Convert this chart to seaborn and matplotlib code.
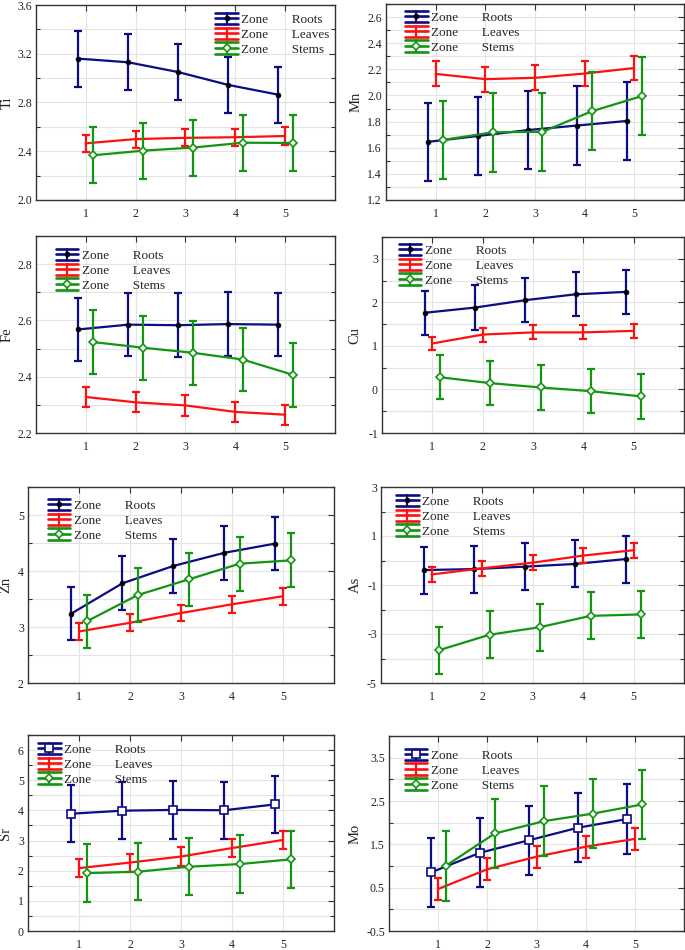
import numpy as np
import matplotlib
matplotlib.use('Agg')
import matplotlib.pyplot as plt
import seaborn as sns
from matplotlib.lines import Line2D
from matplotlib.legend_handler import HandlerBase
from matplotlib.ticker import MultipleLocator, FormatStrFormatter

# zone means per element, sampling sites 1..5
SITES = [1, 2, 3, 4, 5]
ZONES = ['Roots', 'Leaves', 'Stems']

ROOTS = {
    'Ti': [3.16, 3.13, 3.05, 2.945, 2.865],
    'Mn': [1.645, 1.69, 1.735, 1.77, 1.805],
    'Fe': [2.568, 2.585, 2.583, 2.587, 2.585],
    'Cu': [1.76, 1.88, 2.05, 2.185, 2.24],
    'Zn': [3.24, 3.78, 4.09, 4.325, 4.49],
    'As': [-0.39, -0.35, -0.25, -0.14, 0.06],
    'Sr': [3.89, 3.99, 4.015, 4.005, 4.2],
    'Mo': [0.85, 1.305, 1.595, 1.885, 2.085],
}
LEAVES = {
    'Ti': [2.465, 2.50, 2.51, 2.515, 2.525],
    'Mn': [2.165, 2.125, 2.135, 2.168, 2.21],
    'Fe': [2.328, 2.309, 2.298, 2.275, 2.265],
    'Cu': [1.055, 1.26, 1.31, 1.31, 1.345],
    'Zn': [2.92, 3.075, 3.25, 3.405, 3.55],
    'As': [-0.57, -0.32, -0.09, 0.2, 0.42],
    'Sr': [2.085, 2.27, 2.47, 2.75, 3.02],
    'Mo': [0.47, 0.925, 1.215, 1.445, 1.625],
}
STEMS = {
    'Ti': [2.367, 2.405, 2.43, 2.47, 2.468],
    'Mn': [1.66, 1.718, 1.722, 1.88, 1.995],
    'Fe': [2.523, 2.503, 2.485, 2.461, 2.407],
    'Cu': [0.28, 0.145, 0.045, -0.04, -0.16],
    'Zn': [3.10, 3.57, 3.85, 4.13, 4.19],
    'As': [-3.66, -3.03, -2.72, -2.26, -2.20],
    'Sr': [1.92, 1.965, 2.13, 2.22, 2.375],
    'Mo': [1.0, 1.75, 2.035, 2.21, 2.42],
}
# half-width of the error bars (roots, leaves, stems)
HALF_CI = {
    'Ti': (0.23, 0.07, 0.23),
    'Mn': (0.30, 0.095, 0.30),
    'Fe': (0.113, 0.036, 0.113),
    'Cu': (0.51, 0.16, 0.51),
    'Zn': (0.48, 0.15, 0.48),
    'As': (0.96, 0.30, 0.96),
    'Sr': (0.95, 0.30, 0.95),
    'Mo': (0.80, 0.25, 0.80),
}

ZONE_COLORS = {'Roots': '#0c0c84', 'Leaves': '#ff1010', 'Stems': '#129612'}
ZONE_OFFSET = {'Roots': -0.15, 'Leaves': 0.0, 'Stems': 0.15}

# layout: axes box in pixels (left, top, right, bottom), y range, ticks
PANELS = [
    dict(el='Ti', box=(36, 5, 335, 200), ylim=(2.0, 3.6), major=0.4, off=0, minor=0.2,
         fmt='%.1f', leg=(0.60, 0.955), ylab=-0.095, root_mk='o'),
    dict(el='Mn', box=(386, 4, 684, 200), ylim=(1.2, 2.7), major=0.2, off=0, minor=0.1,
         fmt='%.1f', leg=(0.064, 0.96), ylab=-0.10, root_mk='o'),
    dict(el='Fe', box=(36, 236, 335, 433), ylim=(2.2, 2.9), major=0.2, off=0, minor=0.1,
         fmt='%.1f', leg=(0.067, 0.93), ylab=-0.095, root_mk='o'),
    dict(el='Cu', box=(382, 237, 684, 433), ylim=(-1, 3.5), major=1, off=0, minor=0.5,
         fmt='%d', leg=(0.056, 0.96), ylab=-0.089, root_mk='o'),
    dict(el='Zn', box=(28, 487, 334, 683), ylim=(2, 5.5), major=1, off=0, minor=0.5,
         fmt='%d', leg=(0.065, 0.935), ylab=-0.072, root_mk='o'),
    dict(el='As', box=(381, 487, 684, 683), ylim=(-5, 3), major=2, off=1, minor=1,
         fmt='%d', leg=(0.05, 0.955), ylab=-0.086, root_mk='o'),
    dict(el='Sr', box=(28, 735, 334, 931), ylim=(0, 6.5), major=1, off=0, minor=0.5,
         fmt='%d', leg=(0.033, 0.955), ylab=-0.072, root_mk='s'),
    dict(el='Mo', box=(389, 736, 684, 931), ylim=(-0.5, 4.0), major=1, off=0.5, minor=0.5,
         fmt='%.1f', leg=(0.054, 0.93), ylab=-0.115, root_mk='s'),
]

W, H = 685, 950
LW = 1.6

sns.set_theme(style='whitegrid')
plt.rcParams['font.family'] = ['Liberation Serif', 'DejaVu Serif']
plt.rcParams['axes.edgecolor'] = '#333333'
plt.rcParams['axes.linewidth'] = 1.0
plt.rcParams['grid.color'] = '#e3e3e3'
plt.rcParams['grid.linewidth'] = 0.8


def marker_style(zone, root_mk):
    c = ZONE_COLORS[zone]
    if zone == 'Roots':
        if root_mk == 's':
            return dict(marker='s', ms=6, mfc='white', mec=c, mew=1.2)
        return dict(marker='o', ms=3.5, mfc='black', mec='black', mew=0.5)
    if zone == 'Stems':
        return dict(marker='D', ms=4.5, mfc='white', mec=c, mew=1.2)
    return dict(marker='None')


class ZoneHandler(HandlerBase):
    """Statistica-style legend key: three stacked bars joined in the middle."""

    def create_artists(self, legend, orig_handle, xdescent, ydescent, width, height,
                       fontsize, trans):
        c = orig_handle.get_color()
        x0, x1 = -xdescent, -xdescent + width
        yc = -ydescent + height / 2
        dy = height * 0.62
        arts = [Line2D([x0, x1], [y, y], color=c, lw=LW + 0.3) for y in (yc - dy, yc, yc + dy)]
        xm = (x0 + x1) / 2
        arts.append(Line2D([xm, xm], [yc - dy, yc + dy], color=c, lw=LW))
        arts.append(Line2D([xm], [yc], ls='', marker=orig_handle.get_marker(),
                           ms=orig_handle.get_markersize(),
                           mfc=orig_handle.get_markerfacecolor(),
                           mec=orig_handle.get_markeredgecolor(),
                           mew=orig_handle.get_markeredgewidth()))
        for a in arts:
            a.set_transform(trans)
        return arts


fig = plt.figure(figsize=(W / 100, H / 100), dpi=100)

for p in PANELS:
    l, t, r, b = p['box']
    ax = fig.add_axes([l / W, 1 - b / H, (r - l) / W, (b - t) / H])
    el = p['el']
    series = {'Roots': ROOTS[el], 'Leaves': LEAVES[el], 'Stems': STEMS[el]}
    handles = []
    for i, zone in enumerate(ZONES):
        c = ZONE_COLORS[zone]
        x = np.array(SITES) + ZONE_OFFSET[zone]
        y = np.array(series[zone])
        ax.errorbar(x, y, yerr=HALF_CI[el][i], fmt='none', ecolor=c,
                    elinewidth=LW, capsize=3.2, capthick=LW)
        mk = marker_style(zone, p['root_mk'])
        sns.lineplot(x=x, y=y, color=c, lw=LW, ax=ax, errorbar=None, **mk)
        handles.append(Line2D([], [], color=c, lw=LW, **mk))

    ax.set_xlim(0, 6)
    ax.set_ylim(*p['ylim'])
    ax.set_xticks(SITES)
    ax.yaxis.set_major_locator(MultipleLocator(p['major'], offset=p['off']))
    ax.yaxis.set_minor_locator(MultipleLocator(p['minor']))
    ax.yaxis.set_major_formatter(FormatStrFormatter(p['fmt']))
    ax.grid(True, axis='y', which='both')
    ax.grid(True, axis='x', which='major')
    ax.tick_params(axis='both', which='major', direction='in', length=4, width=0.8,
                   top=True, right=True, labelsize=8.5, colors='#333333',
                   labelcolor='#222222')
    ax.tick_params(axis='x', pad=6)
    ax.tick_params(axis='y', pad=3)
    ax.tick_params(axis='y', which='minor', direction='in', length=3, width=0.8,
                   left=True, right=True, colors='#333333')
    ax.set_ylabel(el, fontsize=10.5, color='#222222', va='center')
    ax.yaxis.set_label_coords(p['ylab'], 0.5)
    ax.set_xlabel('')

    labels = [f'Zone       {z}' for z in ZONES]
    ax.legend(handles, labels, handler_map={Line2D: ZoneHandler()}, loc='upper left',
              bbox_to_anchor=p['leg'], frameon=False, fontsize=9.5, borderpad=0,
              borderaxespad=0, handlelength=1.7, handletextpad=0.25, labelspacing=0.2)

fig.savefig('out.png', dpi=100)
